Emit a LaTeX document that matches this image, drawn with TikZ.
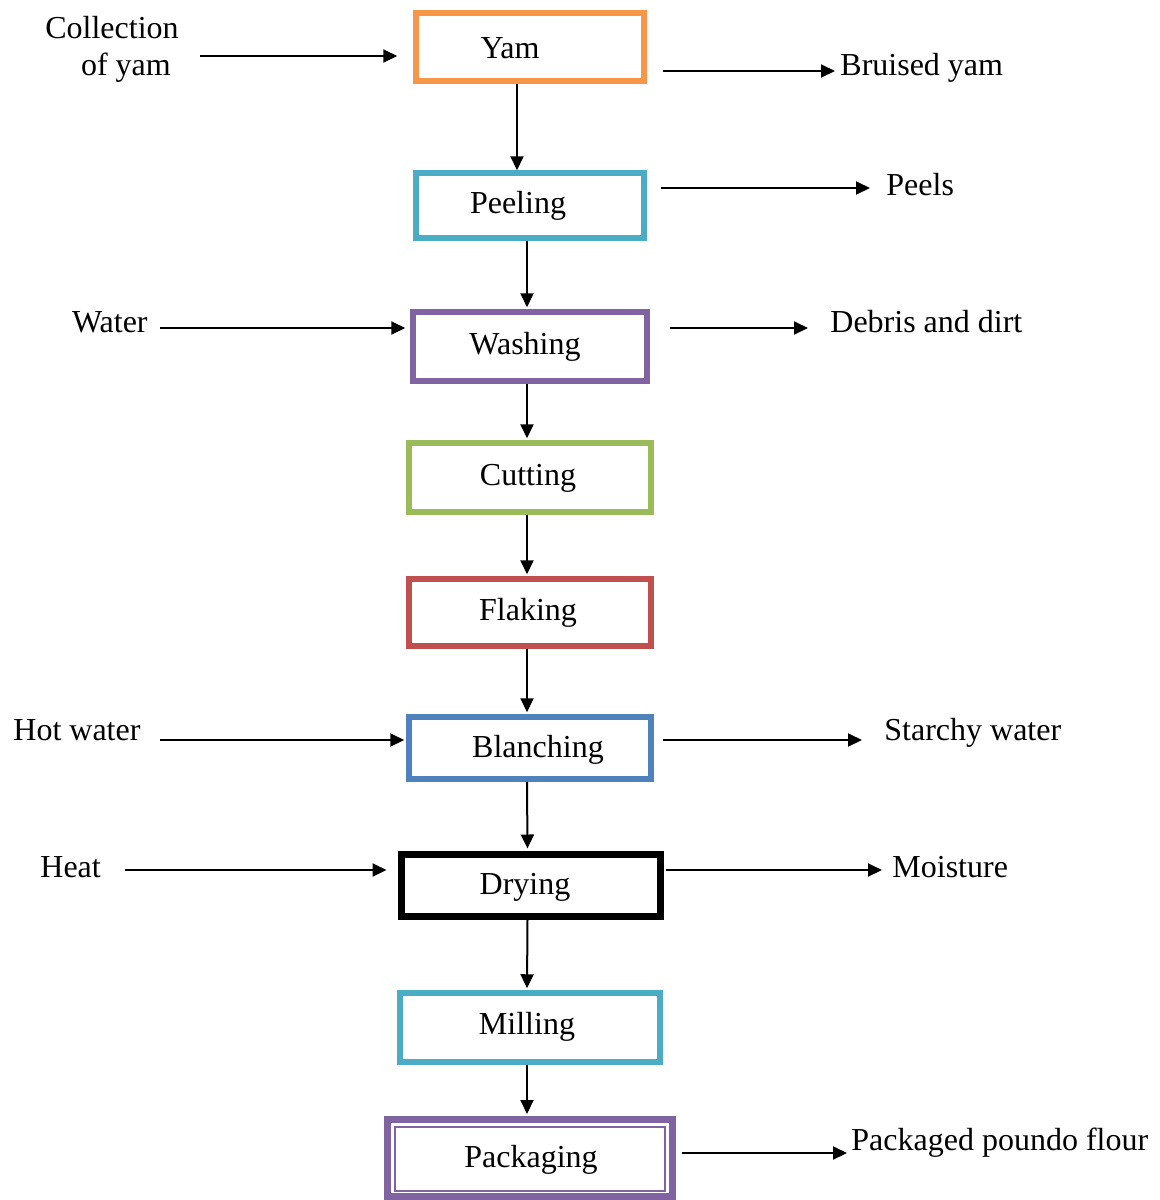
\documentclass[tikz,border=0pt]{standalone}
\usepackage{fontspec}
\setmainfont{Liberation Serif}
\usetikzlibrary{arrows.meta}

\definecolor{yamorange}{HTML}{F79646}
\definecolor{peelblue}{HTML}{4BACC6}
\definecolor{washpurple}{HTML}{8064A2}
\definecolor{cutgreen}{HTML}{9BBB59}
\definecolor{flakered}{HTML}{C0504D}
\definecolor{blanchblue}{HTML}{4F81BD}

\begin{document}
\begin{tikzpicture}[x=0.5pt,y=-0.5pt,
    font=\fontsize{16}{18.5}\selectfont,
    stage/.style={draw, line width=2.75pt, rectangle, inner sep=0pt},
    flow/.style={-{Triangle[length=7pt,width=6.5pt]}, line width=1pt, black}]

    \useasboundingbox (0,0) rectangle (1160,1200);

    % process boxes, centre and size in pixels of the page
    \begin{scope}[every node/.style={stage}]
    \node[draw=yamorange, minimum width=114pt, minimum height=34pt] (yam) at (530,47) {};
    \node[draw=peelblue, minimum width=114pt, minimum height=32.5pt] (peel) at (530,205.5) {};
    \node[draw=washpurple, minimum width=117pt, minimum height=34.5pt] (wash) at (530,346.5) {};
    \node[draw=cutgreen, minimum width=121pt, minimum height=34.5pt] (cut) at (530,477.5) {};
    \node[draw=flakered, minimum width=121pt, minimum height=33.5pt] (flak) at (530,612.5) {};
    \node[draw=blanchblue, minimum width=121pt, minimum height=31pt] (blanch) at (530,748) {};
    \node[draw=black, line width=3.5pt, minimum width=129.5pt, minimum height=31pt] (dry) at (530.5,885) {};
    \node[draw=peelblue, minimum width=130pt, minimum height=34.5pt] (mill) at (530,1027.5) {};
    \node[draw=washpurple, line width=3.5pt, minimum width=142.5pt, minimum height=38.5pt] (pack) at (530,1158) {};
    \node[draw=washpurple, line width=1pt, minimum width=135pt, minimum height=32pt] (packin) at (530,1159) {};
    \end{scope}

    % box texts
    \node at (510,48) {Yam};
    \node at (518,206) {Peeling};
    \node at (525,347) {Washing};
    \node at (528,478) {Cutting};
    \node at (528,613) {Flaking};
    \node at (538,750) {Blanching};
    \node at (525,887) {Drying};
    \node at (527,1027) {Milling};
    \node at (531,1160) {Packaging};

    % inputs and outputs
    \node[anchor=base, align=center, inner sep=0pt] (coll) at (112,75) {Collection\\\hspace*{14pt}of yam};
    \node[anchor=base east, inner sep=0pt] (water) at (148,332) {Water};
    \node[anchor=base west, inner sep=0pt] (hot) at (13,740) {Hot water};
    \node[anchor=base west, inner sep=0pt] (heat) at (40,877) {Heat};
    \node[anchor=base west, inner sep=0pt] (bruised) at (840,75) {Bruised yam};
    \node[anchor=base west, inner sep=0pt] (peels) at (886,195) {Peels};
    \node[anchor=base west, inner sep=0pt] (debris) at (830,332) {Debris and dirt};
    \node[anchor=base west, inner sep=0pt] (starchy) at (884,740) {Starchy water};
    \node[anchor=base west, inner sep=0pt] (moist) at (892,877) {Moisture};
    \node[anchor=base west, inner sep=0pt] (flour) at (851,1150) {Packaged poundo flour};

    % main line
    \draw[flow] ([xshift=-6.5pt]yam.south) -- ([xshift=-6.5pt]peel.north);
    \foreach \a/\b in {peel/wash, wash/cut, cut/flak, flak/blanch, blanch/dry, dry/mill, mill/pack}
        \draw[flow, shorten >=1pt] ([xshift=-1.5pt]\a.south) -- ([xshift=-1.5pt]\b.north);

    % side arrows
    \coordinate (collA) at (200,56);
    \coordinate (waterA) at (160,328);
    \coordinate (hotA) at (160,740);
    \coordinate (heatA) at (125,870);
    \coordinate (bruisedA) at (835,71);
    \coordinate (peelsA) at (870,188);
    \coordinate (debrisA) at (808,328);
    \coordinate (starchyA) at (862,740);
    \coordinate (moistA) at (882,870);
    \coordinate (flourA) at (847,1153);

    \draw[flow, shorten >=8pt] (collA) -- (collA -| yam.west);
    \draw[flow, shorten >=2.5pt] (waterA) -- (waterA -| wash.west);
    \draw[flow, shorten >=1pt] (hotA) -- (hotA -| blanch.west);
    \draw[flow, shorten >=5.5pt] (heatA) -- (heatA -| dry.west);

    \draw[flow, shorten <=8pt] (bruisedA -| yam.east) -- (bruisedA);
    \draw[flow, shorten <=7pt] (peelsA -| peel.east) -- (peelsA);
    \draw[flow, shorten <=10pt] (debrisA -| wash.east) -- (debrisA);
    \draw[flow, shorten <=4.5pt] (starchyA -| blanch.east) -- (starchyA);
    \draw[flow, shorten <=1pt] (moistA -| dry.east) -- (moistA);
    \draw[flow, shorten <=2.75pt] (flourA -| pack.east) -- (flourA);

\end{tikzpicture}
\end{document}
